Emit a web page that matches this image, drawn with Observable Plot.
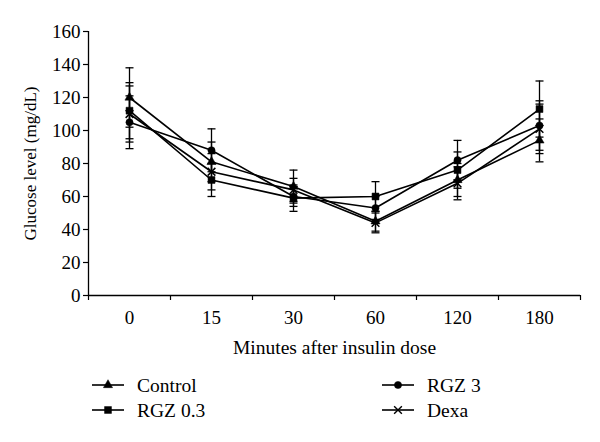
<!DOCTYPE html>
<html>
<head>
<meta charset="utf-8">
<script src="https://cdn.jsdelivr.net/npm/d3@7"></script>
<script src="https://cdn.jsdelivr.net/npm/@observablehq/plot@0.6"></script>
<style>
  html, body { margin: 0; padding: 0; background: #fff; }
  #chart svg { display: block; }
  #chart svg, #chart svg text { font-family: "Liberation Serif", serif; }
</style>
</head>
<body>
<div id="chart"></div>
<script>
// ---- data ----
const times = ["0", "15", "30", "60", "120", "180"];
const seriesNames = ["Control", "RGZ 0.3", "RGZ 3", "Dexa"];
const control    = [120, 81, 66, 45, 70, 94];
const controlErr = [18, 12, 10, 6, 10, 13];
const rgz03      = [112, 70, 59, 60, 76, 113];
const rgz03Err   = [17, 10, 8, 9, 11, 17];
const rgz3       = [105, 88, 60, 53, 82, 103];
const rgz3Err    = [16, 13, 6, 7, 12, 15];
const dexa       = [110, 75, 64, 44, 68, 101];
const dexaErr    = [17, 11, 7, 6, 10, 15];
const yTicks = [0, 20, 40, 60, 80, 100, 120, 140, 160];

const symbols = {"Control": "triangle", "RGZ 0.3": "square", "RGZ 3": "circle", "Dexa": "times"};
const values = {"Control": control, "RGZ 0.3": rgz03, "RGZ 3": rgz3, "Dexa": dexa};
const errs = {"Control": controlErr, "RGZ 0.3": rgz03Err, "RGZ 3": rgz3Err, "Dexa": dexaErr};
const markerR = {"Control": 3.4, "RGZ 0.3": 3.9, "RGZ 3": 3.6, "Dexa": 3.6};

const rows = [];
for (const s of seriesNames) {
  times.forEach((t, i) => rows.push({series: s, i, v: values[s][i], lo: values[s][i] - errs[s][i], hi: values[s][i] + errs[s][i]}));
}

const capSymbol = {draw(ctx) { ctx.moveTo(-4, 0); ctx.lineTo(4, 0); }};
const font = '"Liberation Serif", serif';
const FS = 19;
const idx = times.map((t, i) => i);
const bounds = d3.range(-0.5, times.length, 1);

const chart = Plot.plot({
  width: 600,
  height: 360,
  marginLeft: 88,
  marginRight: 20,
  marginTop: 31,
  marginBottom: 65,
  style: {fontFamily: font, fontSize: FS + "px", color: "#000", background: "#fff"},
  x: {type: "linear", domain: [-0.5, times.length - 0.5], axis: null},
  y: {domain: [0, 160], axis: null},
  marks: [
    Plot.axisY(yTicks, {tickSize: 5, tickPadding: 3, fontSize: FS, fontFamily: font, label: null, stroke: "#000", strokeWidth: 1.2}),
    Plot.axisX(bounds, {tickSize: 5, tickFormat: () => "", label: null, stroke: "#000", strokeWidth: 1.2}),
    Plot.axisX(idx, {tickSize: 0, tickPadding: 15, tickFormat: i => times[i], fontSize: FS, fontFamily: font, label: null}),
    Plot.ruleX([-0.5], {stroke: "#000", strokeWidth: 1.3}),
    Plot.ruleY([0], {stroke: "#000", strokeWidth: 1.3}),
    Plot.text(["Glucose level (mg/dL)"], {frameAnchor: "left", textAnchor: "middle", rotate: -90, dx: -58, fontSize: 17, fontFamily: font, fill: "#000"}),
    Plot.text(["Minutes after insulin dose"], {frameAnchor: "bottom", textAnchor: "middle", dy: 58, fontSize: 19.5, fontFamily: font, fill: "#000"}),
    // error bars
    Plot.ruleX(rows, {x: "i", y1: "lo", y2: "hi", stroke: "#000", strokeWidth: 1.3}),
    Plot.dot(rows, {x: "i", y: "lo", symbol: capSymbol, stroke: "#000", strokeWidth: 1.3, r: 4}),
    Plot.dot(rows, {x: "i", y: "hi", symbol: capSymbol, stroke: "#000", strokeWidth: 1.3, r: 4}),
    // lines
    Plot.line(rows, {x: "i", y: "v", z: "series", stroke: "#000", strokeWidth: 1.6}),
    // markers
    ...seriesNames.map(s => Plot.dot(rows.filter(d => d.series === s), {
      x: "i", y: "v", symbol: symbols[s],
      r: markerR[s],
      fill: s === "Dexa" ? "none" : "#000",
      stroke: "#000", strokeWidth: s === "Dexa" ? 1.5 : 0.5
    }))
  ]
});
document.getElementById("chart").appendChild(chart);

// ---- legend ----
const legendItems = [
  {name: "Control", x: 92, y: 25},
  {name: "RGZ 0.3", x: 92, y: 50},
  {name: "RGZ 3", x: 382, y: 25},
  {name: "Dexa", x: 382, y: 50}
];
const symMap = {triangle: d3.symbolTriangle, square: d3.symbolSquare, circle: d3.symbolCircle, times: d3.symbolTimes};
const leg = d3.create("svg").attr("width", 600).attr("height", 82)
  .style("display", "block").style("font-family", font).style("font-size", "19.5px");
for (const it of legendItems) {
  const g = leg.append("g").attr("transform", `translate(${it.x},${it.y})`);
  g.append("line").attr("x1", 0).attr("x2", 32).attr("stroke", "#000").attr("stroke-width", 1.6);
  const sym = symbols[it.name];
  const r = markerR[it.name];
  g.append("path").attr("transform", "translate(16,0)")
    .attr("d", d3.symbol(symMap[sym], Math.PI * r * r)())
    .attr("fill", sym === "times" ? "none" : "#000")
    .attr("stroke", "#000").attr("stroke-width", sym === "times" ? 1.4 : 0.5);
  g.append("text").attr("x", 45).attr("dy", "0.35em").attr("fill", "#000").text(it.name);
}
document.getElementById("chart").appendChild(leg.node());
</script>
</body>
</html>
